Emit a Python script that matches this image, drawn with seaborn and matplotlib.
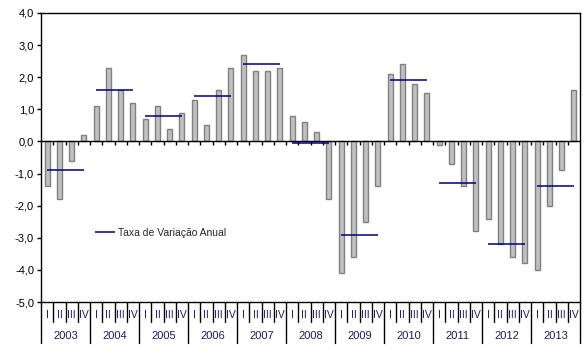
import numpy as np
import pandas as pd
import matplotlib
matplotlib.use("Agg")
import matplotlib.pyplot as plt
import matplotlib.transforms as mtransforms
import seaborn as sns

# data (quarterly change, %)
years = [2003, 2004, 2005, 2006, 2007, 2008, 2009, 2010, 2011, 2012, 2013]
quarters = ["I", "II", "III", "IV"]
quarterly = [
    -1.4, -1.8, -0.6, 0.2,    # 2003
    1.1, 2.3, 1.6, 1.2,       # 2004
    0.7, 1.1, 0.4, 0.9,       # 2005
    1.3, 0.5, 1.6, 2.3,       # 2006
    2.7, 2.2, 2.2, 2.3,       # 2007
    0.8, 0.6, 0.3, -1.8,      # 2008
    -4.1, -3.6, -2.5, -1.4,   # 2009
    2.1, 2.4, 1.8, 1.5,       # 2010
    -0.1, -0.7, -1.4, -2.8,   # 2011
    -2.4, -3.2, -3.6, -3.8,   # 2012
    -4.0, -2.0, -0.9, 1.6,    # 2013
]
annual = [-0.9, 1.6, 0.8, 1.4, 2.4, -0.05, -2.9, 1.9, -1.3, -3.2, -1.4]
legend_label = "Taxa de Variação Anual"

df = pd.DataFrame({
    "periodo": [f"{y}-{q}" for y in years for q in quarters],
    "valor": quarterly,
})

sns.set_theme(style="white")
plt.rcParams["font.family"] = ["Liberation Sans", "DejaVu Sans"]

fig = plt.figure(figsize=(5.88, 3.6), dpi=100)
ax = fig.add_axes([41 / 588, 58 / 360, 539 / 588, 289 / 360])

sns.barplot(data=df, x="periodo", y="valor", color="#C0C0C0", saturation=1,
            edgecolor="#808080", linewidth=1, width=0.42, ax=ax)

# annual rate segments, from Q1 to Q4 of each year
for i, v in enumerate(annual):
    ax.hlines(v, i * 4, i * 4 + 3, color="#000080", lw=1.1, zorder=3,
              label=legend_label if i == 0 else None)

n = len(df)
ax.set_xlim(-0.5, n - 0.5)
ax.set_ylim(-5, 4)
ax.set_yticks(np.arange(-5, 5))
ax.set_yticklabels([f"{t:.1f}".replace(".", ",") for t in np.arange(-5, 5)])
ax.set_xlabel("")
ax.set_ylabel("")

# zero line with small ticks between quarters
ax.axhline(0, color="black", lw=1, zorder=2)
ax.vlines(np.arange(n - 1) + 0.5, -0.12, 0, color="black", lw=1, zorder=2)

for s in ax.spines.values():
    s.set_visible(True)
    s.set_color("black")
    s.set_linewidth(1)

ax.tick_params(axis="y", direction="out", length=3, width=1, left=True,
               labelsize=8, colors="black", pad=2)
ax.set_xticks(np.arange(n))
ax.set_xticklabels(quarters * len(years), fontsize=7.5, color="#1c1c5c")
ax.tick_params(axis="x", length=0, pad=6)

# multi-level category separators below the plot
trans = mtransforms.blended_transform_factory(ax.transData, ax.transAxes)
for b in np.arange(n + 1) - 0.5:
    depth = -41 / 289 if b % 4 == 3.5 or b == -0.5 else -20 / 289
    ax.plot([b, b], [0, depth], transform=trans, color="black", lw=1,
            clip_on=False)
for i, y in enumerate(years):
    ax.text(i * 4 + 1.5, -34 / 289, str(y), transform=trans, ha="center",
            va="center", fontsize=8, color="#1c1c5c")

ax.legend(loc="center left", bbox_to_anchor=(0.1, 0.24), frameon=False,
          fontsize=7.5, handlelength=1.9, handletextpad=0.35, borderpad=0,
          borderaxespad=0)

fig.savefig("out.png", dpi=100)
